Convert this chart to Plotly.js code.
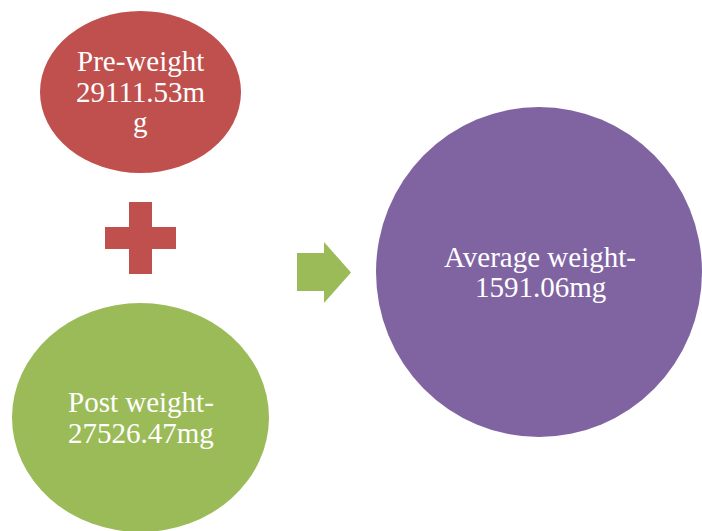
<!DOCTYPE html>
<html>
<head>
<meta charset="utf-8">
<script src="https://cdn.plot.ly/plotly-3.0.1.min.js"></script>
<style>html,body{margin:0;padding:0;background:#fff;}#chart{width:702px;height:531px;}</style>
</head>
<body>
<div id="chart"></div>
<script>
// Diagram content
var labels = ["Pre-weight", "Post weight-", "Average weight-"];
var values = ["29111.53", "27526.47", "1591.06"];
var unit = "mg";
var colors = ["#C0504D", "#9BBB59", "#8064A2"];

// text lines as laid out in the reference (wrapping of the original)
var preLines = [labels[0], values[0] + unit.slice(0, 1), unit.slice(1)];
var postLines = [labels[1], values[1] + unit];
var avgLines = [labels[2], values[2] + unit];

var fontFam = "'Liberation Serif', 'Times New Roman', Times, serif";
var fs = 29;

function lineAnns(lines, cx, firstBaseline, step) {
  return lines.map(function (t, i) {
    return {
      x: cx, y: firstBaseline + i * step - fs * 0.33,
      xref: "x", yref: "y", text: t, showarrow: false,
      xanchor: "center", yanchor: "middle",
      font: {family: fontFam, size: fs, color: "#ffffff"}
    };
  });
}

var annotations = []
  .concat(lineAnns(preLines, 140.5, 71, 30.5))
  .concat(lineAnns(postLines, 140.5, 412, 31))
  .concat(lineAnns(avgLines, 540, 267, 30));

var shapes = [
  {type: "circle", xref: "x", yref: "y", x0: 40, x1: 241, y0: 11, y1: 173,
   fillcolor: colors[0], line: {width: 0}},
  {type: "circle", xref: "x", yref: "y", x0: 12, x1: 269, y0: 303, y1: 532,
   fillcolor: colors[1], line: {width: 0}},
  {type: "circle", xref: "x", yref: "y", x0: 376, x1: 702, y0: 107, y1: 437,
   fillcolor: colors[2], line: {width: 0}},
  {type: "path", xref: "x", yref: "y",
   path: "M129,202 L152,202 L152,227 L176,227 L176,249 L152,249 L152,274 L129,274 L129,249 L105,249 L105,227 L129,227 Z",
   fillcolor: colors[0], line: {width: 0}},
  {type: "path", xref: "x", yref: "y",
   path: "M297,253 L324,253 L324,242 L351,272.5 L324,303 L324,291 L297,291 Z",
   fillcolor: colors[1], line: {width: 0}}
];

var layout = {
  width: 702, height: 531,
  margin: {l: 0, r: 0, t: 0, b: 0, pad: 0},
  paper_bgcolor: "#ffffff", plot_bgcolor: "#ffffff",
  xaxis: {range: [0, 702], visible: false, fixedrange: true},
  yaxis: {range: [531, 0], visible: false, fixedrange: true},
  showlegend: false,
  shapes: shapes,
  annotations: annotations
};

Plotly.newPlot("chart", [{x: [], y: [], type: "scatter", mode: "markers", hoverinfo: "skip"}], layout,
  {displayModeBar: false, staticPlot: true});
</script>
</body>
</html>
